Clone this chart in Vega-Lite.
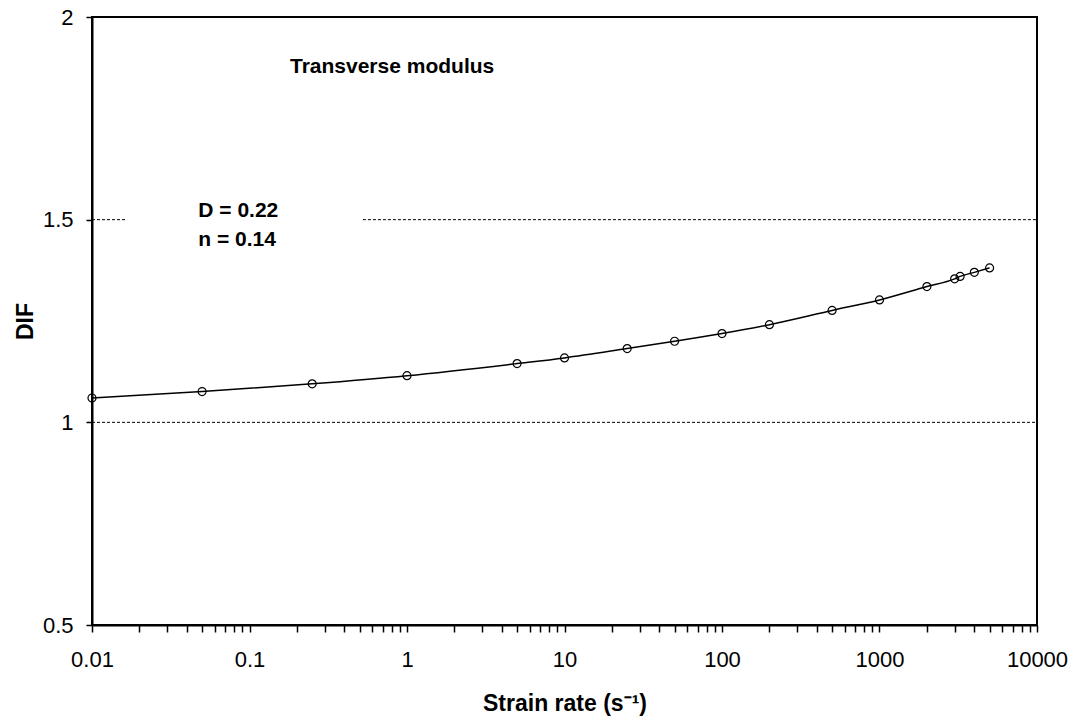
{
  "$schema": "https://vega.github.io/schema/vega-lite/v6.json",
  "width": 945,
  "height": 608,
  "autosize": "none",
  "padding": {"left": 92, "top": 17, "right": 40, "bottom": 95},
  "background": "white",
  "config": {
    "font": "Liberation Sans",
    "view": {"stroke": "black", "strokeWidth": 2}
  },
  "datasets": {
    "curve": [
      {"rate": 0.01, "dif": 1.060},
      {"rate": 0.05, "dif": 1.076},
      {"rate": 0.25, "dif": 1.095},
      {"rate": 1, "dif": 1.115},
      {"rate": 5, "dif": 1.145},
      {"rate": 10, "dif": 1.159},
      {"rate": 25, "dif": 1.182},
      {"rate": 50, "dif": 1.200},
      {"rate": 100, "dif": 1.219},
      {"rate": 200, "dif": 1.241},
      {"rate": 500, "dif": 1.276},
      {"rate": 1000, "dif": 1.302},
      {"rate": 2000, "dif": 1.335},
      {"rate": 3000, "dif": 1.354},
      {"rate": 3250, "dif": 1.360},
      {"rate": 4000, "dif": 1.370},
      {"rate": 5000, "dif": 1.381}
    ],
    "grid": [
      {"rate": 0.01, "rate2": 10000, "dif": 1},
      {"rate": 0.01, "rate2": 0.0162, "dif": 1.5},
      {"rate": 0.525, "rate2": 10000, "dif": 1.5}
    ],
    "notes": [
      {"rate": 0.1807, "dif": 1.863, "label": "Transverse modulus"},
      {"rate": 0.0473, "dif": 1.506, "label": "D = 0.22"},
      {"rate": 0.0473, "dif": 1.436, "label": "n = 0.14"}
    ]
  },
  "encoding": {
    "x": {
      "field": "rate",
      "type": "quantitative",
      "scale": {"type": "log", "domain": [0.01, 10000], "nice": false},
      "axis": {
        "title": "Strain rate (s⁻¹)",
        "values": [0.01,0.02,0.03,0.04,0.05,0.06,0.07,0.08,0.09,0.1,0.2,0.3,0.4,0.5,0.6,0.7,0.8,0.9,1,2,3,4,5,6,7,8,9,10,20,30,40,50,60,70,80,90,100,200,300,400,500,600,700,800,900,1000,2000,3000,4000,5000,6000,7000,8000,9000,10000],
        "format": "~g",
        "labelExpr": "indexof([0.01,0.1,1,10,100,1000,10000], datum.value) >= 0 ? datum.label : ''",
        "labelFont": "Liberation Sans",
        "labelFontSize": 22,
        "labelColor": "black",
        "labelPadding": 17,
        "labelFlush": false,
        "labelOverlap": false,
        "tickColor": "black",
        "tickSize": 7,
        "tickWidth": 1.5,
        "domainColor": "black",
        "domainWidth": 2,
        "grid": false,
        "titleFont": "Liberation Sans",
        "titleFontSize": 23,
        "titleFontWeight": "bold",
        "titleColor": "black",
        "titlePadding": 22
      }
    },
    "y": {
      "field": "dif",
      "type": "quantitative",
      "scale": {"domain": [0.5, 2], "nice": false, "zero": false},
      "axis": {
        "title": "DIF",
        "values": [0.5, 1, 1.5, 2],
        "format": "~g",
        "labelFont": "Liberation Sans",
        "labelFontSize": 22,
        "labelColor": "black",
        "labelPadding": 13,
        "labelFlush": false,
        "labelOverlap": false,
        "tickColor": "black",
        "tickSize": 6,
        "tickWidth": 1.5,
        "domainColor": "black",
        "domainWidth": 2,
        "grid": false,
        "titleFont": "Liberation Sans",
        "titleFontSize": 23,
        "titleFontWeight": "bold",
        "titleColor": "black",
        "titleAngle": -90,
        "titleX": -60,
        "titleY": 304,
        "titleAlign": "center",
        "titleBaseline": "alphabetic"
      }
    }
  },
  "layer": [
    {
      "data": {"name": "grid"},
      "mark": {"type": "rule", "color": "black", "strokeWidth": 1, "strokeDash": [3, 2]},
      "encoding": {"x2": {"field": "rate2"}}
    },
    {
      "data": {"name": "curve"},
      "mark": {"type": "line", "color": "black", "strokeWidth": 1.5, "interpolate": "monotone"}
    },
    {
      "data": {"name": "curve"},
      "mark": {"type": "point", "shape": "circle", "filled": false, "color": "black", "size": 64, "strokeWidth": 1.2, "opacity": 1}
    },
    {
      "data": {"name": "notes"},
      "mark": {"type": "text", "align": "left", "baseline": "alphabetic", "font": "Liberation Sans", "fontSize": 21, "fontWeight": "bold", "color": "black"},
      "encoding": {"text": {"field": "label"}}
    }
  ]
}
